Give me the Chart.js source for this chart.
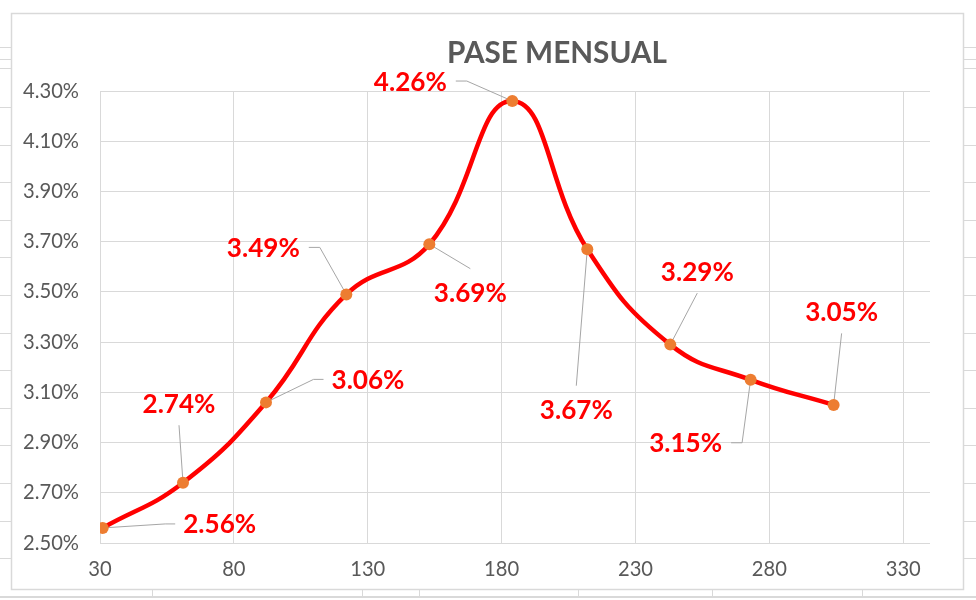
<!DOCTYPE html>
<html><head><meta charset="utf-8">
<script src="https://cdn.jsdelivr.net/npm/chart.js@4"></script>
<style>html,body{margin:0;padding:0;background:#fff}</style>
</head><body>
<canvas id="c" width="976" height="600"></canvas>
<script>
// ---- data ----
const chartTitle = 'PASE MENSUAL';
const days = [31, 61, 92, 122, 153, 184, 212, 243, 273, 304];
const paseMensual = [2.56, 2.74, 3.06, 3.49, 3.69, 4.26, 3.67, 3.29, 3.15, 3.05];
const xTicks = [30, 80, 130, 180, 230, 280, 330];
const yTicks = [2.50, 2.70, 2.90, 3.10, 3.30, 3.50, 3.70, 3.90, 4.10, 4.30];

// ---- style ----
const FAMILY = 'Lato, "Open Sans", sans-serif';
function fitSize(text, weight, target){
  const c = document.createElement('canvas').getContext('2d');
  c.font = weight + ' 100px ' + FAMILY;
  return 100 * target / c.measureText(text).width;
}
const tickSize = fitSize('4.30%', 'normal', 56);
const labelSize = fitSize('2.56%', 'bold', 73);
const titleSize = fitSize(chartTitle, 'bold', 220);
// label centre offsets from each point (px), in data order
const labelOffsets = [[117,-4],[-4,-79],[102,-23],[-83,-47],[41,48],[-102,-20],[-11,160],[27,-73],[-65,63],[8,-93]];

const decoPlugin = {
  id: 'deco',
  beforeDraw(chart){
    const ctx = chart.ctx;
    ctx.save();
    ctx.fillStyle = '#fff';
    ctx.fillRect(0,0,chart.width,chart.height);
    ctx.strokeStyle = '#d9d9d9';
    ctx.lineWidth = 1.5;
    ctx.strokeRect(11.5, 13.5, 952, 576);
    ctx.lineWidth = 2;
    ctx.beginPath(); ctx.moveTo(0,597); ctx.lineTo(976,597); ctx.stroke();
    ctx.lineWidth = 1;
    const ys = [47,59,68];
    for (let y = 107; y < 580; y += 37.6) ys.push(Math.round(y));
    ctx.beginPath();
    ys.forEach(y => { ctx.moveTo(0,y+0.5); ctx.lineTo(11,y+0.5); ctx.moveTo(964,y+0.5); ctx.lineTo(976,y+0.5); });
    [152,362,419,578,712,862].forEach(x => { ctx.moveTo(x+0.5,590); ctx.lineTo(x+0.5,597); });
    ctx.stroke();
    // title
    ctx.fillStyle = '#595959';
    ctx.font = 'bold ' + titleSize + 'px ' + FAMILY;
    ctx.textAlign = 'center';
    ctx.textBaseline = 'alphabetic';
    ctx.fillText(chartTitle, 557, 63);
    ctx.restore();
  }
};

function labelBoxes(chart){
  const ctx = chart.ctx;
  const meta = chart.getDatasetMeta(0);
  ctx.save();
  ctx.font = 'bold ' + labelSize + 'px ' + FAMILY;
  const out = meta.data.map((pt, i) => {
    const txt = paseMensual[i].toFixed(2) + '%';
    const m = ctx.measureText(txt);
    const w = m.width, h = m.actualBoundingBoxAscent;
    const cx = pt.x + labelOffsets[i][0], cy = pt.y + labelOffsets[i][1];
    return {txt, w, h, cx, cy, px: pt.x, py: pt.y};
  });
  ctx.restore();
  return out;
}

const labelPlugin = {
  id: 'pointLabels',
  beforeDatasetsDraw(chart){
    const ctx = chart.ctx;
    ctx.save();
    ctx.strokeStyle = '#a6a6a6';
    ctx.lineWidth = 1;
    labelBoxes(chart).forEach(b => {
      const left = b.cx - b.w/2, right = b.cx + b.w/2;
      const top = b.cy - b.h/2, bottom = b.cy + b.h/2;
      ctx.beginPath();
      ctx.moveTo(b.px, b.py);
      if (b.px < left - 20) {
        ctx.lineTo(left - 18, b.cy); ctx.lineTo(left - 8, b.cy);
      } else if (b.px > right + 20) {
        ctx.lineTo(right + 20, b.cy); ctx.lineTo(right + 9, b.cy);
      } else if (b.cy < b.py) {
        ctx.lineTo(b.cx, bottom + 12);
      } else {
        ctx.lineTo(b.cx, top - 14);
      }
      ctx.stroke();
    });
    ctx.restore();
  },
  afterDatasetsDraw(chart){
    const ctx = chart.ctx;
    ctx.save();
    ctx.font = 'bold ' + labelSize + 'px ' + FAMILY;
    ctx.fillStyle = '#FF0000';
    ctx.textAlign = 'center';
    ctx.textBaseline = 'alphabetic';
    labelBoxes(chart).forEach(b => ctx.fillText(b.txt, b.cx, b.cy + b.h/2));
    ctx.restore();
  }
};

new Chart(document.getElementById('c'), {
  type: 'line',
  data: {
    datasets: [{
      data: days.map((d, i) => ({x: d, y: paseMensual[i]})),
      borderColor: '#FF0000',
      borderWidth: 4.5,
      tension: 0.45,
      fill: false,
      pointRadius: 6,
      pointBackgroundColor: '#ED7D31',
      pointBorderColor: '#ED7D31',
      pointBorderWidth: 0
    }]
  },
  options: {
    responsive: false,
    animation: false,
    layout: {padding: {left: 0, right: 46, top: 91, bottom: 0}},
    plugins: {legend: {display: false}, tooltip: {enabled: false}, title: {display: false}},
    scales: {
      x: {
        type: 'linear', min: 30, max: 340,
        afterBuildTicks: s => { s.ticks = xTicks.map(v => ({value: v})); },
        afterFit: s => { s.height = 57; },
        grid: {color: '#d9d9d9', lineWidth: 1, drawTicks: false},
        border: {display: false},
        ticks: {color: '#595959', font: {family: FAMILY, size: tickSize}, padding: 14, maxRotation: 0, autoSkip: false}
      },
      y: {
        type: 'linear', min: 2.5, max: 4.3,
        afterBuildTicks: s => { s.ticks = yTicks.map(v => ({value: v})); },
        afterFit: s => { s.width = 100; },
        grid: {color: '#d9d9d9', lineWidth: 1, drawTicks: false},
        border: {display: false},
        ticks: {color: '#595959', font: {family: FAMILY, size: tickSize}, padding: 21, autoSkip: false,
          callback: v => Number(v).toFixed(2) + '%'}
      }
    }
  },
  plugins: [decoPlugin, labelPlugin]
});
</script>
</body></html>
